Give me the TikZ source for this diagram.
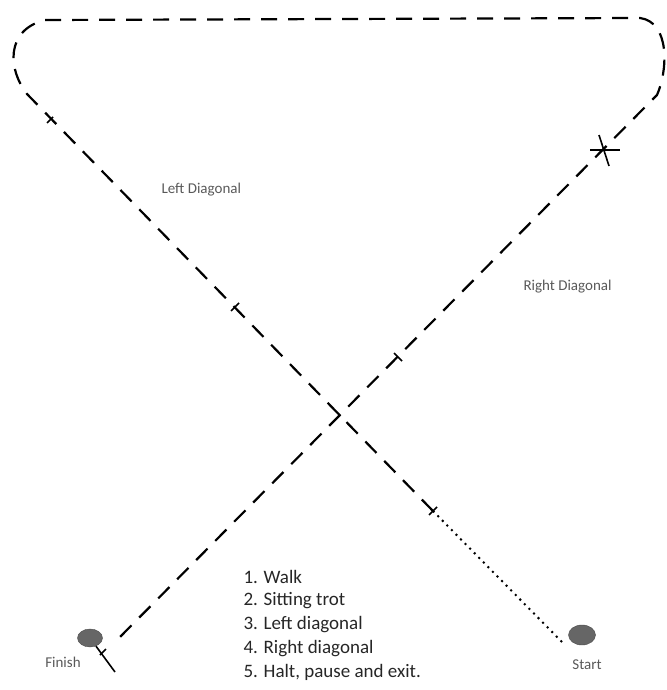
\documentclass[tikz,border=0pt]{standalone}
\usepackage{fontspec}
\setmainfont{Carlito}
\usetikzlibrary{shapes.geometric,positioning}

\begin{document}
\begin{tikzpicture}[x=1pt,y=-1pt,
track/.style={line width=2.2pt,dash pattern=on 16pt off 11pt},
walk/.style={line width=2pt,dash pattern=on 2pt off 4.5pt},
notch/.style={line width=1.6pt},
ball/.style={ellipse,fill=black!60,draw=black!70,inner sep=0pt},
lbl/.style={text=black!65,font=\fontsize{15}{18}\selectfont},
listline/.style={anchor=west,text=black!85,font=\fontsize{19}{23}\selectfont}]
\useasboundingbox (0,0) rectangle (666,690);
\node[ball,minimum width=27pt,minimum height=20pt] (start) at (582,635) {};
\node[ball,minimum width=25pt,minimum height=18pt] (finish) at (90,638) {};
\node[lbl] (startlbl) at (587,665) {Start};
\node[lbl] (finishlbl) at (63,662) {Finish};
\node[lbl,anchor=west] (leftlbl) at (158,190) {Left Diagonal};
\node[lbl,anchor=west] (rightlbl) at (520,287) {Right Diagonal};
\node[listline] (walkline) at (240,577) {1. Walk};
\node[listline] (trotline) at (240,601) {2. Sitting trot};
\node[listline] (leftline) at (240,625) {3. Left diagonal};
\node[listline] (rightline) at (240,649) {4. Right diagonal};
\node[listline] (haltline) at (240,672) {5. Halt, pause and exit.};
\coordinate (s0) at (562,642);
\coordinate (t1) at (433,511);
\coordinate (lc) at (27,94);
\coordinate (tl) at (45,20);
\coordinate (tr) at (640,18);
\coordinate (rc) at (657,95);
\coordinate (f0) at (117,640);
\coordinate (f1) at (115,672);
\draw[walk] (s0)--(t1);
\draw[track] (t1)--(lc) .. controls (8,70) and (5,30) .. (tl)--(tr)
  .. controls (670,22) and (668,70) .. (rc)--(f0);
\draw[line width=1.6pt] (finish)--(f1);
\draw[notch] (100,655)--(106,649);
\draw[notch] (429,515)--(437,507);
\draw[notch] (231,311)--(239,303);
\draw[notch] (47,123)--(53,117);
\draw[notch] (394,353)--(402,361);
\draw[notch] (590,150)--(620,150);
\draw[notch] (599,135)--(609,166);
\end{tikzpicture}
\end{document}
